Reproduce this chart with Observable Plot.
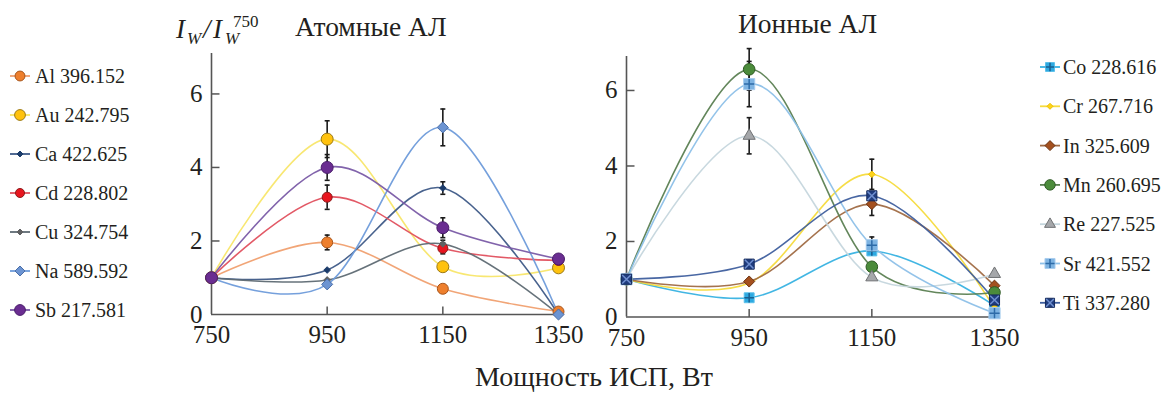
<!DOCTYPE html>
<html><head><meta charset="utf-8">
<script src="https://cdn.jsdelivr.net/npm/d3@7"></script>
<script src="https://cdn.jsdelivr.net/npm/@observablehq/plot@0.6"></script>
<style>
html,body{margin:0;padding:0;background:#fff;}
#root{position:relative;width:1170px;height:393px;overflow:hidden;font-family:"Liberation Serif","DejaVu Serif",serif;color:#231f20;}
.panel{position:absolute;}
#overlay{position:absolute;left:0;top:0;pointer-events:none;}
svg text{font-family:"Liberation Serif","DejaVu Serif",serif;}
</style></head><body><div id="root"></div>
<script>
// ---------- data ----------
const powers = [750, 950, 1150, 1350];
const yTickValues = [0, 2, 4, 6];
const innerYTicks = [2, 4, 6];
const innerXTicks = [950, 1150];

const atomLabels = ["Al 396.152", "Au 242.795", "Ca 422.625", "Cd 228.802", "Cu 324.754", "Na 589.592", "Sb 217.581"];
const atomValues = [
  [1, 1.96, 0.70, 0.08],
  [1, 4.77, 1.30, 1.27],
  [1, 1.21, 3.44, 0.00],
  [1, 3.19, 1.80, 1.47],
  [1, 0.94, 1.92, 0.00],
  [1, 0.82, 5.09, 0.00],
  [1, 4.00, 2.36, 1.51]
];
const atomErrors = [
  [null, 0.20, null, null],
  [null, 0.50, null, null],
  [null, null, 0.17, null],
  [null, 0.33, 0.15, null],
  [null, null, 0.10, null],
  [null, null, 0.50, null],
  [null, 0.35, 0.27, null]
];

const ionLabels = ["Co 228.616", "Cr 267.716", "In 325.609", "Mn 260.695", "Re 227.525", "Sr 421.552", "Ti 337.280"];
const ionValues = [
  [1, 0.51, 1.75, 0.30],
  [1, 0.90, 3.78, 0.25],
  [1, 0.94, 2.99, 0.83],
  [1, 6.56, 1.33, 0.65],
  [1, 4.80, 1.05, 1.14],
  [1, 6.17, 1.90, 0.10],
  [1, 1.40, 3.21, 0.45]
];
const ionErrors = [
  [null, null, null, null],
  [null, null, 0.40, null],
  [null, null, 0.30, null],
  [null, 0.55, null, null],
  [null, 0.48, null, null],
  [null, 0.60, 0.22, null],
  [null, null, null, null]
];

// ---------- styles ----------
const fontStack = '"Liberation Serif", "DejaVu Serif", serif';
const textColor = "#231f20";
const axisColor = "#555";
const atomLineColors = ["#f0a070", "#f8e66a", "#3e5a87", "#e0505e", "#5e6a73", "#6e9bda", "#7a5ba6"];
const atomMarkers = [
  {symbol: "circle", r: 5.5, fill: "#ee7f2d", stroke: "#a8561c"},
  {symbol: "circle", r: 6, fill: "#ffc20e", stroke: "#9c7a14"},
  {symbol: "diamond2", r: 3, fill: "#1c3c6b", stroke: "#1c3c6b"},
  {symbol: "circle", r: 5, fill: "#e8151f", stroke: "#8c1a1a"},
  {symbol: "diamond2", r: 3, fill: "#5f6062", stroke: "#5f6062"},
  {symbol: "diamond2", r: 5, fill: "#6c94d2", stroke: "#4a6ea8"},
  {symbol: "circle", r: 6, fill: "#6a2d91", stroke: "#4a1d6b"}
];
const ionLineColors = ["#38b2e2", "#f6db3d", "#a06b45", "#5b7f52", "#c5d6dd", "#8dc0e8", "#3f5f9e"];
const ionMarkers = [
  {symbol: "square", r: 5.6, fill: "#2da9e1", stroke: "#5cc0ea", inner: "plus", innerR: 3.2, innerStroke: "#1a5f90"},
  {symbol: "diamond2", r: 3, fill: "#ffd31a", stroke: "#ecc000"},
  {symbol: "diamond2", r: 5, fill: "#a4501e", stroke: "#6b3312"},
  {symbol: "circle", r: 5.8, fill: "#4b8b3b", stroke: "#2e5a24"},
  {symbol: "triangle", r: 4.5, fill: "#a5a7aa", stroke: "#707274"},
  {symbol: "square", r: 6.3, fill: "#7db3e2", stroke: "#a9cdee", inner: "plus", innerR: 3.4, innerStroke: "#2d6ba8"},
  {symbol: "square", r: 5.7, fill: "#1f3c7e", stroke: "#152a5c", inner: "times", innerR: 4, innerStroke: "#6f8fd0"}
];

// ---------- helpers ----------
const lenOf = size => Math.sqrt(size / Math.PI);
const tickRight = {draw(ctx, size) { const l = lenOf(size); ctx.moveTo(0, 0); ctx.lineTo(l, 0); }};
const tickUp = {draw(ctx, size) { const l = lenOf(size); ctx.moveTo(0, 0); ctx.lineTo(0, -l); }};
const capSym = {draw(ctx, size) { const l = lenOf(size); ctx.moveTo(-l, 0); ctx.lineTo(l, 0); }};

function panel(cfg) {
  const {labels, values, errors, lineColors, markers, yMax, width, height, marginLeft, marginRight, marginTop, marginBottom} = cfg;
  const series = labels.map((s, i) => powers.map((x, j) => ({series: s, x, y: values[i][j], e: errors[i][j]})));
  const errRows = series.flat().filter(d => d.e != null);
  const marks = [
    Plot.ruleY([0], {stroke: axisColor, strokeWidth: 1.6}),
    Plot.ruleX([powers[0]], {stroke: axisColor, strokeWidth: 1.6}),
    Plot.dot(innerYTicks, {x: powers[0], y: d => d, symbol: tickRight, r: 8, stroke: axisColor, fill: "none", strokeWidth: 1.5}),
    Plot.dot(innerXTicks, {x: d => d, y: 0, symbol: tickUp, r: 8, stroke: axisColor, fill: "none", strokeWidth: 1.5}),
    Plot.axisY(yTickValues, {tickSize: 0, tickPadding: 9, label: null, fill: textColor, fontSize: 25, tickFormat: d => String(d)}),
    Plot.axisX(powers, {tickSize: 0, tickPadding: 11, label: null, fill: textColor, fontSize: 25, tickFormat: d => String(d)})
  ];
  series.forEach((rows, i) => {
    marks.push(Plot.line(rows, {x: "x", y: "y", stroke: lineColors[i], strokeWidth: 1.6, curve: "cardinal", strokeOpacity: 0.95}));
  });
  marks.push(Plot.ruleX(errRows, {x: "x", y1: d => d.y - d.e, y2: d => d.y + d.e, stroke: "#1a1a1a", strokeWidth: 1.6}));
  marks.push(Plot.dot(errRows, {x: "x", y: d => d.y + d.e, symbol: capSym, r: 2.5, stroke: "#1a1a1a", fill: "none", strokeWidth: 1.6}));
  marks.push(Plot.dot(errRows, {x: "x", y: d => d.y - d.e, symbol: capSym, r: 2.5, stroke: "#1a1a1a", fill: "none", strokeWidth: 1.6}));
  series.forEach((rows, i) => {
    const m = markers[i];
    marks.push(Plot.dot(rows, {x: "x", y: "y", symbol: m.symbol, r: m.r, fill: m.fill, stroke: m.stroke, strokeWidth: 1}));
    if (m.inner) marks.push(Plot.dot(rows, {x: "x", y: "y", symbol: m.inner, r: m.innerR, fill: "none", stroke: m.innerStroke, strokeWidth: 1.5}));
  });
  return Plot.plot({
    width, height, marginLeft, marginRight, marginTop, marginBottom,
    x: {domain: [powers[0], powers[powers.length - 1]]},
    y: {domain: [0, yMax]},
    style: {fontFamily: fontStack, fontSize: "25px", color: textColor, background: "transparent", overflow: "visible"},
    marks
  });
}

const root = document.getElementById("root");
function place(node, left, top) {
  const wrap = document.createElement("div");
  wrap.className = "panel";
  wrap.style.left = left + "px";
  wrap.style.top = top + "px";
  wrap.appendChild(node);
  root.appendChild(wrap);
}

place(panel({labels: atomLabels, values: atomValues, errors: atomErrors, lineColors: atomLineColors, markers: atomMarkers,
  yMax: 7.1, width: 430, height: 319, marginLeft: 61, marginRight: 22, marginTop: 13, marginBottom: 45}), 150, 40);
place(panel({labels: ionLabels, values: ionValues, errors: ionErrors, lineColors: ionLineColors, markers: ionMarkers,
  yMax: 6.9, width: 460, height: 322, marginLeft: 66, marginRight: 26, marginTop: 16, marginBottom: 45.5}), 560, 40);

// ---------- overlay texts and legends ----------
const svg = d3.select(root).append("svg").attr("id", "overlay").attr("width", 1170).attr("height", 393)
  .attr("font-family", fontStack).attr("fill", textColor);

const ylab = svg.append("g");
ylab.append("text").attr("x", 176).attr("y", 38).attr("font-size", 27).attr("font-style", "italic").text("I");
ylab.append("text").attr("x", 187).attr("y", 44).attr("font-size", 17).attr("font-style", "italic").text("W");
ylab.append("text").attr("x", 203).attr("y", 38).attr("font-size", 27).attr("font-style", "italic").text("/");
ylab.append("text").attr("x", 213).attr("y", 38).attr("font-size", 27).attr("font-style", "italic").text("I");
ylab.append("text").attr("x", 225).attr("y", 44).attr("font-size", 17).attr("font-style", "italic").text("W");
ylab.append("text").attr("x", 233).attr("y", 27).attr("font-size", 17).text("750");

svg.append("text").attr("x", 295).attr("y", 36).attr("font-size", 27.5).text("Атомные АЛ");
svg.append("text").attr("x", 738).attr("y", 33).attr("font-size", 27.5).text("Ионные АЛ");
svg.append("text").attr("x", 594).attr("y", 386).attr("font-size", 28).attr("text-anchor", "middle").text("Мощность ИСП, Вт");

const symbolTypes = {circle: d3.symbolCircle, diamond2: d3.symbolDiamond2, square: d3.symbolSquare, triangle: d3.symbolTriangle, plus: d3.symbolPlus, times: d3.symbolTimes};
function legend(labels, lineColors, markers, cx, textX, y0, dy) {
  labels.forEach((lab, i) => {
    const y = y0 + dy * i;
    const m = markers[i];
    const g = svg.append("g");
    g.append("line").attr("x1", cx - 10).attr("x2", cx + 10).attr("y1", y).attr("y2", y).attr("stroke", lineColors[i]).attr("stroke-width", 1.8);
    const rr = m.r * 0.9;
    g.append("path").attr("transform", `translate(${cx},${y})`).attr("d", d3.symbol(symbolTypes[m.symbol], Math.PI * rr * rr)())
      .attr("fill", m.fill).attr("stroke", m.stroke).attr("stroke-width", 1);
    if (m.inner) {
      const ir = m.innerR * 0.9;
      g.append("path").attr("transform", `translate(${cx},${y})`).attr("d", d3.symbol(symbolTypes[m.inner], Math.PI * ir * ir)())
        .attr("fill", "none").attr("stroke", m.innerStroke).attr("stroke-width", 1.5);
    }
    g.append("text").attr("x", textX).attr("y", y).attr("dy", "0.35em").attr("font-size", 20).text(lab);
  });
}
legend(atomLabels, atomLineColors, atomMarkers, 20, 35, 76, 39);
legend(ionLabels, ionLineColors, ionMarkers, 1050, 1063, 67, 39.3);
</script></body></html>
